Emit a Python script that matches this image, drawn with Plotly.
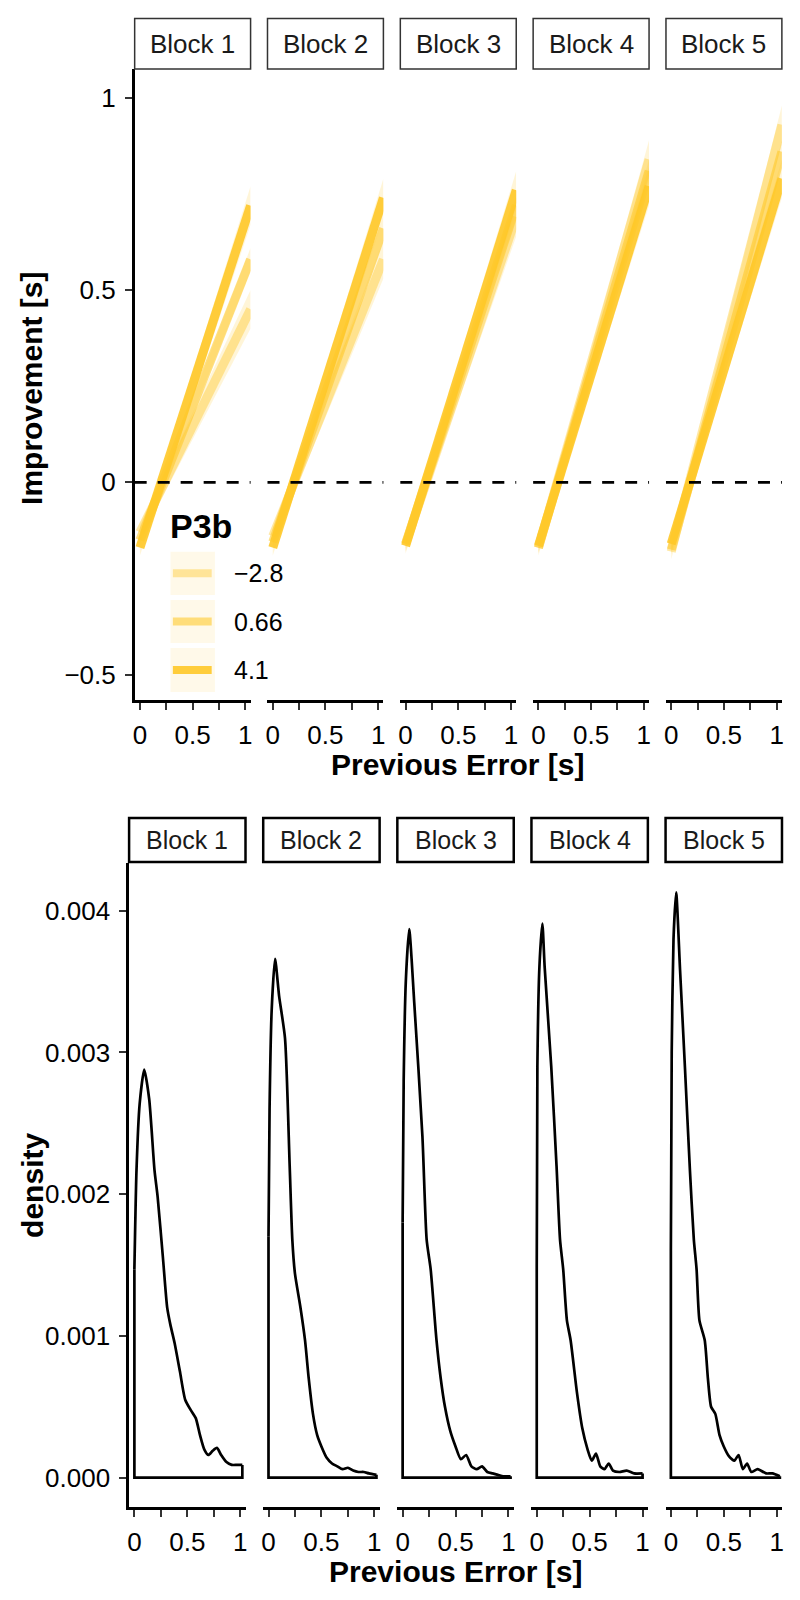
import plotly.graph_objects as go

# ---------------- data ----------------
blocks = ["Block 1", "Block 2", "Block 3", "Block 4", "Block 5"]

# top: fitted improvement lines, one per P3b level (value at x=0 and at x=1.05)
p3b_labels = ["\u22122.8", "0.66", "4.1"]
line_x = [0.0, 1.05]
start_vals = [
    [-0.13, -0.14, -0.16, -0.17, -0.18],   # P3b -2.8
    [-0.15, -0.155, -0.16, -0.17, -0.175], # P3b 0.66
    [-0.17, -0.17, -0.165, -0.165, -0.16], # P3b 4.1
]
end_vals = [
    [0.45, 0.58, 0.69, 0.84, 0.93],
    [0.58, 0.66, 0.72, 0.81, 0.86],
    [0.72, 0.74, 0.76, 0.77, 0.79],
]
# confidence band half widths at x=0 and x=1.05
ci_half = [
    [0.02, 0.05],
    [0.012, 0.03],
    [0.02, 0.05],
]

# bottom: density of previous error per block
dens_x = [
    [0.0, 0.02, 0.05, 0.093, 0.14, 0.19, 0.22, 0.27, 0.31, 0.34, 0.38, 0.43, 0.48,
     0.53, 0.58, 0.62, 0.66, 0.70, 0.74, 0.78, 0.82, 0.87, 0.92, 0.97, 1.02],
    [0.0, 0.01, 0.03, 0.062, 0.1, 0.156, 0.2, 0.225, 0.25, 0.3, 0.345, 0.38, 0.42,
     0.46, 0.5, 0.55, 0.6, 0.65, 0.7, 0.75, 0.8, 0.85, 0.9, 0.95, 1.02],
    [0.0, 0.01, 0.03, 0.062, 0.11, 0.187, 0.227, 0.265, 0.32, 0.36, 0.4, 0.45, 0.5,
     0.55, 0.6, 0.65, 0.7, 0.75, 0.8, 0.85, 0.9, 0.95, 1.02],
    [0.0, 0.006, 0.025, 0.053, 0.075, 0.137, 0.187, 0.22, 0.25, 0.285, 0.32, 0.38,
     0.43, 0.48, 0.52, 0.56, 0.6, 0.64, 0.68, 0.72, 0.78, 0.85, 0.92, 1.0],
    [0.0, 0.008, 0.025, 0.05, 0.087, 0.134, 0.18, 0.217, 0.243, 0.27, 0.32, 0.35,
     0.38, 0.42, 0.46, 0.5, 0.55, 0.6, 0.64, 0.68, 0.72, 0.76, 0.82, 0.9, 0.96, 1.03],
]
dens_y = [
    [0.00147, 0.00217, 0.00264, 0.00288, 0.00267, 0.00217, 0.00198, 0.00155, 0.0012,
     0.00108, 0.00095, 0.00075, 0.00055, 0.00048, 0.00042, 0.0003, 0.0002, 0.00016,
     0.00019, 0.00021, 0.00016, 0.00011, 0.00009, 0.00009, 0.00009],
    [0.0017, 0.0026, 0.0033, 0.00366, 0.0034, 0.0031, 0.0022, 0.00168, 0.00144,
     0.00121, 0.00097, 0.0007, 0.00045, 0.0003, 0.00022, 0.00014, 0.0001, 0.00008,
     0.00006, 0.00007, 0.00005, 0.00004, 0.00004, 0.00003, 0.00002],
    [0.0018, 0.0028, 0.0035, 0.00387, 0.00335, 0.00241, 0.00168, 0.00147, 0.00097,
     0.0007, 0.0005, 0.00033, 0.00022, 0.00013, 0.00016, 0.00008, 0.00006, 0.00008,
     0.00004, 0.00003, 0.00002, 0.00001, 0.00001],
    [0.0015, 0.0029, 0.0036, 0.00391, 0.0036, 0.0029, 0.0022, 0.00168, 0.00147,
     0.00111, 0.00097, 0.0006, 0.00035, 0.0002, 0.00012, 0.00017, 0.00008, 0.00006,
     0.0001, 0.00005, 0.00004, 0.00005, 0.00003, 0.00003],
    [0.0016, 0.003, 0.0038, 0.00413, 0.00358, 0.00288, 0.00217, 0.00168, 0.00147,
     0.00111, 0.00097, 0.0007, 0.0005, 0.00045, 0.0003, 0.00022, 0.00015, 0.00012,
     0.00016, 0.00006, 0.0001, 0.00004, 0.00006, 0.00003, 0.00003, 0.00001],
]

# ---------------- styling / layout helpers ----------------
# the page body has an 8px margin, so the figure is drawn 8px smaller and shifted
OFF = 8
W, H = 800 - OFF, 1600 - OFF
FONT = "Liberation Sans, Arial, sans-serif"
GOLD = "255,200,40"
line_alpha = [0.42, 0.58, 0.9]
ribbon_alpha = 0.18

TOP_Y = (69.4, 700.0)      # panel top / bottom in page px
BOT_Y = (863.0, 1507.0)
top_left = [133.3 + i * 133.5 for i in range(5)]
top_w = 116.5
bot_left = [127.7 + i * 134.8 for i in range(5)]
bot_w = 117.0


def fx(p):
    return (p - OFF) / W


def fy(p):
    return 1 - (p - OFF) / H


def axis_name(n, letter):
    return f"{letter}axis" if n == 1 else f"{letter}axis{n}"


def axis_ref(n, letter):
    return letter if n == 1 else f"{letter}{n}"


def note(text, x, y, size, **kw):
    d = dict(text=text, xref="paper", yref="paper", x=fx(x), y=fy(y), showarrow=False,
             xanchor="center", yanchor="middle",
             font=dict(size=size, color=kw.pop("color", "black"), family=FONT,
                       weight=kw.pop("weight", "normal")))
    d.update(kw)
    return d


fig = go.Figure()
shapes = []
annotations = []

x_common = dict(range=[-0.05, 1.05], tickvals=[0, 0.25, 0.5, 0.75, 1],
                ticktext=["0", "", "0.5", "", "1"], showline=True, linecolor="black",
                linewidth=2.5, ticks="outside", ticklen=7, tickwidth=2, tickcolor="#333",
                ticklabelstandoff=3,
                tickfont=dict(size=26, color="black", family=FONT), showgrid=False,
                zeroline=False, fixedrange=True)
y_first = dict(showline=True, linecolor="black", linewidth=2.5, ticks="outside",
               ticklen=7, tickwidth=2, tickcolor="#333", ticklabelstandoff=4,
               tickfont=dict(size=26, color="black", family=FONT))

# ---------------- top row ----------------
for b in range(5):
    n = b + 1
    xr, yr = axis_ref(n, "x"), axis_ref(n, "y")
    # confidence ribbons
    for k in range(3):
        s, e = start_vals[k][b], end_vals[k][b]
        lo = [s - ci_half[k][0], e - ci_half[k][1]]
        hi = [s + ci_half[k][0], e + ci_half[k][1]]
        fig.add_trace(go.Scatter(x=line_x + line_x[::-1], y=hi + lo[::-1], fill="toself",
                                 fillcolor=f"rgba({GOLD},{ribbon_alpha})",
                                 line=dict(width=0), mode="lines", hoverinfo="skip",
                                 xaxis=xr, yaxis=yr))
    for k in range(3):
        fig.add_trace(go.Scatter(x=line_x, y=[start_vals[k][b], end_vals[k][b]],
                                 mode="lines",
                                 line=dict(color=f"rgba({GOLD},{line_alpha[k]})", width=9),
                                 xaxis=xr, yaxis=yr))
    l = top_left[b]
    fig.layout[axis_name(n, "x")] = dict(domain=[fx(l), fx(l + top_w)], anchor=yr, **x_common)
    ydict = dict(domain=[fy(TOP_Y[1]), fy(TOP_Y[0])], range=[-0.566, 1.074], anchor=xr,
                 showgrid=False, zeroline=False, fixedrange=True)
    if b == 0:
        ydict.update(tickvals=[-0.5, 0, 0.5, 1], ticktext=["\u22120.5", "0", "0.5", "1"],
                     **y_first)
    else:
        ydict.update(showline=False, showticklabels=False, ticks="")
    fig.layout[axis_name(n, "y")] = ydict
    # dashed zero line
    shapes.append(dict(type="line", xref=f"{xr} domain", yref=yr, x0=0, x1=1, y0=0, y1=0,
                       line=dict(color="black", width=2.8, dash="12px,11px"), layer="above"))
    # facet strip
    shapes.append(dict(type="rect", xref="paper", yref="paper", x0=fx(l), x1=fx(l + top_w),
                       y0=fy(69.0), y1=fy(18.5), line=dict(color="#333", width=1.5),
                       fillcolor="white"))
    annotations.append(note(blocks[b], l + top_w / 2, 44, 26, color="#1a1a1a"))

# ---------------- bottom row ----------------
for b in range(5):
    n = b + 6
    xr, yr = axis_ref(n, "x"), axis_ref(n, "y")
    xs, ds = dens_x[b], dens_y[b]
    fig.add_trace(go.Scatter(x=xs, y=ds, mode="lines",
                             line=dict(color="black", width=2.7, shape="spline", smoothing=0.6),
                             xaxis=xr, yaxis=yr))
    # closing outline of the density polygon
    fig.add_trace(go.Scatter(x=[xs[-1], xs[-1], xs[0], xs[0]], y=[ds[-1], 0, 0, ds[0]],
                             mode="lines", line=dict(color="black", width=2.7),
                             xaxis=xr, yaxis=yr))
    l = bot_left[b]
    fig.layout[axis_name(n, "x")] = dict(domain=[fx(l), fx(l + bot_w)], anchor=yr, **x_common)
    ydict = dict(domain=[fy(BOT_Y[1]), fy(BOT_Y[0])], range=[-0.000207, 0.004337], anchor=xr,
                 showgrid=False, zeroline=False, fixedrange=True)
    if b == 0:
        ydict.update(tickvals=[0, 0.001, 0.002, 0.003, 0.004],
                     ticktext=["0.000", "0.001", "0.002", "0.003", "0.004"], **y_first)
    else:
        ydict.update(showline=False, showticklabels=False, ticks="")
    fig.layout[axis_name(n, "y")] = ydict
    shapes.append(dict(type="rect", xref="paper", yref="paper", x0=fx(l), x1=fx(l + bot_w),
                       y0=fy(862.0), y1=fy(818.0), line=dict(color="black", width=2.5),
                       fillcolor="white"))
    annotations.append(note(blocks[b], l + bot_w / 2, 840, 25, color="#1a1a1a"))

# ---------------- axis titles ----------------
annotations += [
    note("Improvement [s]", 30, 388, 30, weight="bold", textangle=-90),
    note("Previous Error [s]", 458, 764, 30, weight="bold"),
    note("density", 30, 1185, 30, weight="bold", textangle=-90),
    note("Previous Error [s]", 456, 1571, 30, weight="bold"),
]

# ---------------- manual legend for P3b ----------------
annotations.append(note("P3b", 167, 526, 34, weight="bold", xanchor="left"))
key_rows = [(551.7, 595.0), (600.0, 643.0), (648.0, 692.0)]
for k, (t, btm) in enumerate(key_rows):
    shapes.append(dict(type="rect", xref="paper", yref="paper", x0=fx(169.3), x1=fx(214),
                       y0=fy(btm), y1=fy(t), line=dict(width=0),
                       fillcolor=f"rgba({GOLD},0.1)"))
    yc = (t + btm) / 2
    shapes.append(dict(type="line", xref="paper", yref="paper", x0=fx(171.7), x1=fx(210.7),
                       y0=fy(yc), y1=fy(yc),
                       line=dict(color=f"rgba({GOLD},{line_alpha[k]})", width=8)))
    annotations.append(note(p3b_labels[k], 231, yc, 25, xanchor="left"))

fig.update_layout(width=W, height=H, margin=dict(l=0, r=0, t=0, b=0),
                  plot_bgcolor="white", paper_bgcolor="white", showlegend=False,
                  shapes=shapes, annotations=annotations,
                  font=dict(family=FONT))

fig.write_html("out.html")
